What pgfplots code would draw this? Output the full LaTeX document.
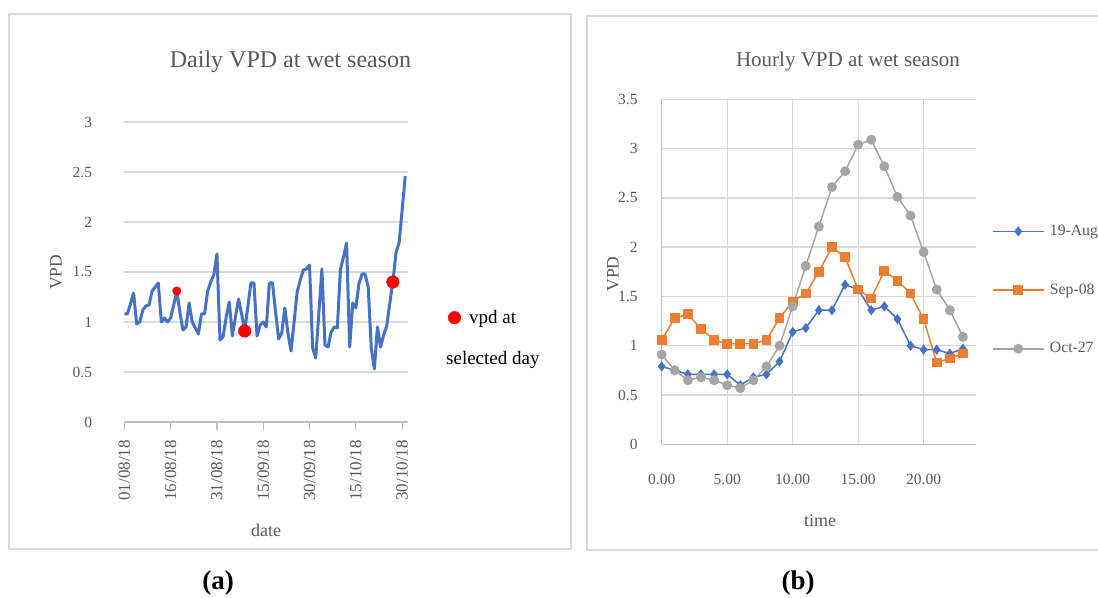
\documentclass[border=0pt]{standalone}
\usepackage{fontspec}
\setmainfont{Liberation Serif}
\usepackage{pgfplots}
\pgfplotsset{compat=1.18}
\definecolor{txtgray}{HTML}{595959}
\definecolor{gridgray}{HTML}{D9D9D9}
\definecolor{axgray}{HTML}{BFBFBF}
\definecolor{xlblue}{HTML}{4472C4}
\definecolor{xlorange}{HTML}{ED7D31}
\definecolor{xlgray}{HTML}{A5A5A5}
\newcommand{\fs}[2]{\fontsize{#1}{#2}\selectfont}
% legend symbols: a single dot, and a short line with its marker in the middle
\pgfplotsset{
  dotlegend/.style={legend image code/.code={\draw[##1] plot coordinates {(6.3bp,0bp)}; \path[draw=none] (0bp,0bp) -- (21bp,0bp);}},
  linelegend/.style={legend image code/.code={\draw[mark repeat=2, mark phase=2, ##1] plot coordinates {(0bp,0bp)(25.6bp,0bp)(51.3bp,0bp)}; \path[draw=none] (0bp,0bp) -- (57.3bp,0bp);}},
}
\begin{document}
\begin{tikzpicture}[x=1bp,y=1bp]
\path[use as bounding box] (0,0) rectangle (1098,598);
% chart frames
\draw[gridgray, line width=1.5bp] (9,49) rectangle (571,584);
\draw[gridgray, line width=1.5bp] (1100,582) -- (587,582) -- (587,48) -- (1100,48);

% (a) daily VPD
\begin{axis}[
  at={(124.3bp,176bp)}, anchor=south west, scale only axis,
  width=283.4bp, height=300bp,
  xmin=0, xmax=91.8, ymin=0, ymax=3,
  axis lines*=left,
  y axis line style={draw=none},
  x axis line style={axgray, line width=1.3bp},
  ytick={0,0.5,1,1.5,2,2.5,3},
  ymajorgrids, grid style={gridgray, line width=1.3bp},
  ytick style={draw=none},
  xtick={0,15,30,45,60,75,90},
  xticklabels={01/08/18,16/08/18,31/08/18,15/09/18,30/09/18,15/10/18,30/10/18},
  xtick style={axgray, line width=1.3bp},
  tick align=outside, major tick length=8bp,
  /pgf/number format/assume math mode=true,
  x tick label style={rotate=90, anchor=east, inner sep=0pt, font=\fs{17bp}{20bp}, text=txtgray},
  xticklabel shift=10bp,
  y tick label style={anchor=east, inner sep=0pt, font=\fs{15.5bp}{18bp}, text=txtgray},
  yticklabel shift=24bp,
  clip=false,
  legend style={at={(1.1422,0.3477)}, anchor=west, draw=none, fill=none,
    inner sep=0pt, nodes={inner sep=0pt}, font=\fs{19bp}{22bp}, text=black},
  legend cell align=left,
]
\addplot[xlblue, line width=3bp, line join=round, forget plot] coordinates {
(0,1.08)(1,1.08)(2,1.18)(3,1.29)(4,0.98)(5,1.00)(6,1.12)(7,1.16)(8,1.17)(9,1.31)
(10,1.35)(11,1.39)(12,1.00)(13,1.04)(14,1.00)(15,1.04)(16,1.17)(17,1.31)(18,1.10)(19,0.92)
(20,0.95)(21,1.19)(22,1.00)(23,0.94)(24,0.88)(25,1.08)(26,1.08)(27,1.31)(28,1.40)(29,1.47)
(30,1.68)(31,0.82)(32,0.85)(33,1.05)(34,1.20)(35,0.86)(36,1.05)(37,1.23)(38,1.08)(39,0.91)
(40,1.15)(41,1.39)(42,1.39)(43,0.86)(44,0.97)(45,1.00)(46,0.95)(47,1.39)(48,1.39)(49,1.10)
(50,0.83)(51,0.89)(52,1.14)(53,0.89)(54,0.71)(55,1.00)(56,1.30)(57,1.42)(58,1.52)(59,1.53)
(60,1.57)(61,0.74)(62,0.64)(63,1.08)(64,1.53)(65,0.77)(66,0.75)(67,0.90)(68,0.95)(69,0.94)
(70,1.52)(71,1.65)(72,1.79)(73,0.75)(74,1.19)(75,1.14)(76,1.38)(77,1.48)(78,1.48)(79,1.35)
(80,0.74)(81,0.53)(82,0.95)(83,0.75)(84,0.87)(85,0.96)(86,1.19)(87,1.40)(88,1.69)(89,1.79)
(90,2.12)(91,2.46)};
\addplot[only marks, mark=*, mark size=4.2bp, red, forget plot] coordinates {(17,1.31)};
\addplot[only marks, mark=*, mark size=6.3bp, red, dotlegend] coordinates {(39,0.91)(87,1.40)};
\addlegendentry{vpd at}
\end{axis}
\node[anchor=west, font=\fs{19bp}{22bp}, inner sep=0pt] at (446,238) {selected day};
\node[text=txtgray, font=\fs{24bp}{28bp}] at (290.5,536) {Daily VPD at wet season};
\node[text=txtgray, font=\fs{18bp}{21bp}] at (266,68) {date};
\node[text=txtgray, font=\fs{17.5bp}{21bp}, rotate=90] at (56,325.5) {VPD};

% (b) hourly VPD
\begin{axis}[
  at={(661.7bp,153.7bp)}, anchor=south west, scale only axis,
  width=314.3bp, height=345bp,
  xmin=0, xmax=24, ymin=0, ymax=3.5,
  xtick={0,5,10,15,20}, ytick={0,0.5,1,1.5,2,2.5,3,3.5},
  grid=major, grid style={gridgray, line width=1.3bp},
  axis lines*=left, axis line style={axgray, line width=1.3bp},
  major tick length=0pt, tick style={draw=none},
  /pgf/number format/assume math mode=true,
  x tick label style={/pgf/number format/fixed, /pgf/number format/fixed zerofill,
    /pgf/number format/precision=2, inner sep=0pt, font=\fs{15.5bp}{18bp}, text=txtgray},
  xticklabel shift=30bp,
  y tick label style={anchor=east, inner sep=0pt, font=\fs{15.5bp}{18bp}, text=txtgray},
  yticklabel shift=24bp,
  legend style={at={(1.05,0.447)}, anchor=west, draw=none, fill=none,
    inner sep=0pt, nodes={inner sep=0pt, text height=11bp, text depth=3bp},
    row sep=44.7bp, font=\fs{15.7bp}{18bp}, text=txtgray},
  legend cell align=left,
  linelegend,
]
\addplot[xlblue, line width=1.5bp, mark=diamond*, mark size=3.9bp, mark options={solid, fill=xlblue}] coordinates {
(0,0.79)(1,0.75)(2,0.71)(3,0.71)(4,0.71)(5,0.71)(6,0.60)(7,0.68)(8,0.71)(9,0.84)
(10,1.14)(11,1.18)(12,1.36)(13,1.36)(14,1.62)(15,1.57)(16,1.36)(17,1.40)(18,1.27)(19,1.00)
(20,0.96)(21,0.96)(22,0.92)(23,0.97)};
\addlegendentry{19-Aug}
\addplot[xlorange, line width=1.5bp, mark=square*, mark size=4.1bp, mark options={solid, fill=xlorange}] coordinates {
(0,1.06)(1,1.28)(2,1.32)(3,1.17)(4,1.06)(5,1.02)(6,1.02)(7,1.02)(8,1.06)(9,1.28)
(10,1.45)(11,1.53)(12,1.75)(13,2.00)(14,1.90)(15,1.57)(16,1.48)(17,1.76)(18,1.66)(19,1.53)
(20,1.27)(21,0.83)(22,0.87)(23,0.92)};
\addlegendentry{Sep-08}
\addplot[xlgray, line width=1.5bp, mark=*, mark size=4.2bp, mark options={solid, fill=xlgray}] coordinates {
(0,0.91)(1,0.75)(2,0.65)(3,0.68)(4,0.65)(5,0.60)(6,0.57)(7,0.65)(8,0.79)(9,1.00)
(10,1.40)(11,1.81)(12,2.21)(13,2.61)(14,2.77)(15,3.04)(16,3.09)(17,2.82)(18,2.51)(19,2.32)
(20,1.95)(21,1.57)(22,1.36)(23,1.09)};
\addlegendentry{Oct-27}
\end{axis}
\node[text=txtgray, font=\fs{21bp}{25bp}] at (848,537) {Hourly VPD at wet season};
\node[text=txtgray, font=\fs{18bp}{21bp}] at (820,77) {time};
\node[text=txtgray, font=\fs{17.5bp}{21bp}, rotate=90] at (613,324) {VPD};

% panel letters
\node[font=\bfseries\fs{27bp}{30bp}] at (218,15) {(a)};
\node[font=\bfseries\fs{27bp}{30bp}] at (798,15) {(b)};
\end{tikzpicture}
\end{document}
